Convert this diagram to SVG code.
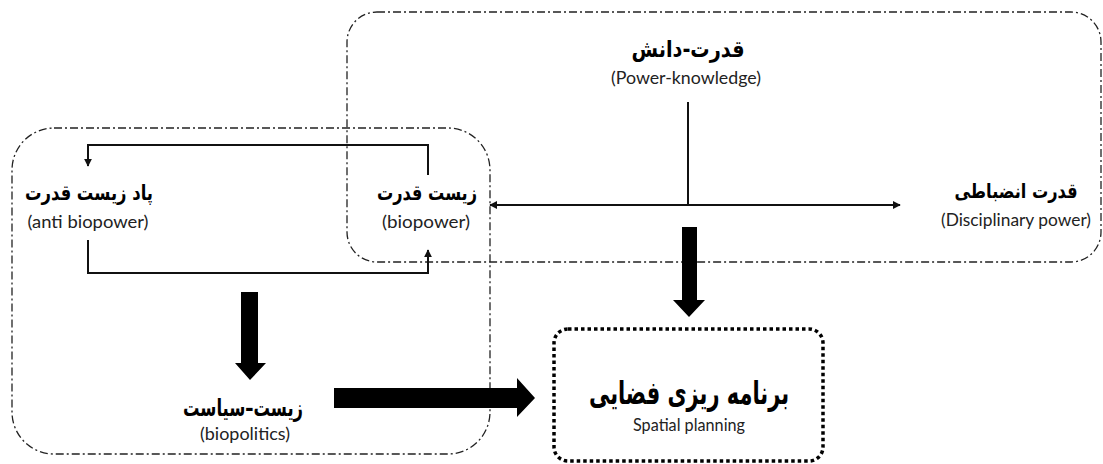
<svg xmlns="http://www.w3.org/2000/svg" width="1103" height="464" viewBox="0 0 1103 464">
<style>
.fa{font-family:"DejaVu Sans Condensed","DejaVu Sans",sans-serif;font-weight:bold;fill:#000;text-anchor:middle}
.en{font-family:Lato,"Open Sans","Liberation Sans",sans-serif;fill:#222;text-anchor:middle;font-size:18px}
.dd{fill:none;stroke:#222;stroke-width:1.3;stroke-dasharray:8 3 2 3}
.ln{fill:none;stroke:#111;stroke-width:2}
.big{fill:#000;stroke:none}
</style>
<defs>
<marker id="ah2" viewBox="0 0 10 10" refX="9" refY="5" markerWidth="8" markerHeight="8" markerUnits="userSpaceOnUse" orient="auto-start-reverse">
<path d="M0,0 L10,5 L0,10 z" fill="#111"/>
</marker>
</defs>
<rect width="1103" height="464" fill="#fff"/>
<g id="groups">
<rect class="dd" x="347" y="12" width="754" height="250" rx="30" ry="30"/>
<rect class="dd" x="12" y="128" width="478" height="326" rx="42" ry="42"/>
</g>
<g id="connectors">
<path class="ln" d="M428,175 V145 H88 V166" marker-end="url(#ah2)"/>
<path class="ln" d="M88,240 V273 H428 V250" marker-end="url(#ah2)"/>
<path class="ln" d="M688,102 V204"/>
<path class="ln" d="M490,205 H900" marker-start="url(#ah2)" marker-end="url(#ah2)"/>
<path class="big" d="M682,227 H697 V300 H705 L689,317 L673,300 H682 z"/>
<path class="big" d="M241,292 H258 V363 H266 L250,380 L235,363 H241 z"/>
<path class="big" d="M334,388 H517 V378 L535,398 L517,417 V408 H334 z"/>
</g>
<g id="n-power-knowledge">
<text class="fa" x="688" y="57" font-size="23" textLength="113" lengthAdjust="spacingAndGlyphs">قدرت-دانش</text>
<text class="en" x="686" y="84" textLength="150" lengthAdjust="spacingAndGlyphs">(Power-knowledge)</text>
</g>
<g id="n-disciplinary">
<text class="fa" x="1016" y="198" font-size="20" textLength="123" lengthAdjust="spacingAndGlyphs">قدرت انضباطی</text>
<text class="en" x="1016" y="226" textLength="150" lengthAdjust="spacingAndGlyphs">(Disciplinary power)</text>
</g>
<g id="n-biopower">
<text class="fa" x="427" y="200" font-size="21" textLength="100" lengthAdjust="spacingAndGlyphs">زیست قدرت</text>
<text class="en" x="426" y="228" textLength="88" lengthAdjust="spacingAndGlyphs">(biopower)</text>
</g>
<g id="n-anti-biopower">
<text class="fa" x="89" y="200" font-size="21" textLength="128" lengthAdjust="spacingAndGlyphs">پاد زیست قدرت</text>
<text class="en" x="88" y="228" textLength="121" lengthAdjust="spacingAndGlyphs">(anti biopower)</text>
</g>
<g id="n-biopolitics">
<text class="fa" x="243" y="416" font-size="24" textLength="120" lengthAdjust="spacingAndGlyphs">زیست–سیاست</text>
<text class="en" x="245" y="440" textLength="90" lengthAdjust="spacingAndGlyphs">(biopolitics)</text>
</g>
<g id="n-spatial-planning">
<rect x="554" y="329" width="269" height="132" rx="14" ry="14" fill="none" stroke="#000" stroke-width="3.5" stroke-dasharray="3.5 3"/>
<text class="fa" x="689" y="404" font-size="32" textLength="200" lengthAdjust="spacingAndGlyphs">برنامه ریزی فضایی</text>
<text class="en" x="689" y="431" font-size="17" textLength="112" lengthAdjust="spacingAndGlyphs">Spatial planning</text>
</g>
</svg>
